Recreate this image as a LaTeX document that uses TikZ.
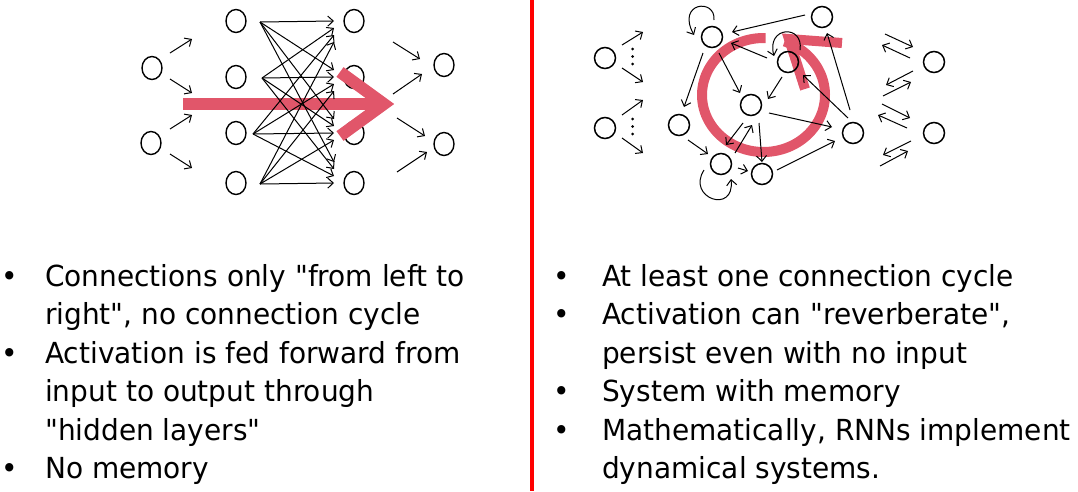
\documentclass[tikz,border=0pt]{standalone}
\usepackage{fontspec}
\setmainfont{DejaVu Sans}[Ligatures=TeXOff, FakeStretch=0.965]
\usetikzlibrary{arrows.meta,calc,shapes.geometric}
\definecolor{flow}{RGB}{225,86,106}
\definecolor{divider}{RGB}{255,0,0}
\begin{document}
\begin{tikzpicture}[x=1pt,y=-1pt,
  ffunit/.style={draw=black, line width=1.4pt, ellipse, minimum width=20pt, minimum height=23pt, inner sep=0pt},
  rnunit/.style={draw=black, line width=1.5pt, circle, minimum size=21pt, inner sep=0pt},
  arr/.style={line width=1pt, -{Straight Barb[length=5.5pt,width=10pt]}},
  flowline/.style={draw=flow, line width=12pt},
  flowring/.style={draw=flow, line width=10pt},
  txt/.style={anchor=base west, inner sep=0pt, font=\fontsize{29}{35}\selectfont},
]
\useasboundingbox (0,0) rectangle (1078,491);

% ---------- feed-forward network ----------
\node[ffunit] (in1) at (152,68) {};
\node[ffunit] (in2) at (151,143) {};
\foreach \i/\y in {1/21,2/77,3/133,4/183}{
  \node[ffunit] (ha\i) at (236,\y) {};
  \node[ffunit] (hb\i) at (354,\y) {};
}
\node[ffunit] (o1) at (444,65) {};
\node[ffunit] (o2) at (444,144) {};

% red flow arrow
\draw[flowline] (183,104) -- (384,104);
\draw[flowline, line join=miter] (340,72) -- (384,104) -- (340,136);

% input arrows
\draw[arr] ($(in1)+(18,-15)$) -- ++(22,-14);
\draw[arr] ($(in1)+(18,11)$) -- ++(22,14);
\draw[arr] ($(in2)+(19,-14)$) -- ++(22,-14);
\draw[arr] ($(in2)+(19,11)$) -- ++(22,14);

% full connections between hidden layers
\foreach \s/\dx in {1/24,2/26,3/17,4/24}{
  \foreach \t in {1,...,4}{
    \draw[arr] ($(ha\s)+(\dx,1)$) -- ($(hb\t)+(-20,{7*(\s-\t)})$);
  }
}

% output arrows
\draw[arr] ($(hb1)+(39,21)$) -- ($(o1)+(-24,-6)$);
\draw[arr] ($(hb2)+(39,17)$) -- ($(o1)+(-22,9)$);
\draw[arr] ($(hb3)+(43,-15)$) -- ($(o2)+(-19,-8)$);
\draw[arr] ($(hb4)+(43,-11)$) -- ($(o2)+(-17,8)$);

% ---------- divider ----------
\draw[divider, line width=4pt] (532,0) -- (532,491);

% ---------- recurrent network ----------
% red circulation arrow
\draw[flowring] plot[domain=88:430, samples=120, smooth] ({763.5+61.5*cos(\x)}, {95-57*sin(\x)});
\draw[flowring, line join=miter] (842,43) -- (789,39) -- (805,89);

\node[rnunit] (I1) at (605,58) {};
\node[rnunit] (I2) at (605,128) {};
\node[rnunit] (A) at (712,37) {};
\node[rnunit] (B) at (822,17) {};
\node[rnunit] (C) at (788,62) {};
\node[rnunit] (D) at (751,105) {};
\node[rnunit] (E) at (679,125) {};
\node[rnunit] (F) at (853,133) {};
\node[rnunit] (G) at (721,164) {};
\node[rnunit] (H) at (762,174) {};
\node[rnunit] (O1) at (934,62) {};
\node[rnunit] (O2) at (934,133) {};

% input fan-out with dots
\draw[arr] ($(I1)+(17,-13)$) -- ++(21,-13);
\draw[arr] ($(I1)+(17,10)$) -- ++(21,14);
\draw[arr] ($(I2)+(17,-13)$) -- ++(21,-15);
\draw[arr] ($(I2)+(17,10)$) -- ++(21,15);
\foreach \y in {-9,-1.5,6}{
  \fill ($(I1)+(27.5,\y)$) circle (1.5pt);
  \fill ($(I2)+(27.5,\y)$) circle (1.5pt);
}

% recurrent connections
\draw[arr] ($(B)+(-17,-2)$) -- ($(A)+(20,-5)$);
\draw[arr] ($(C)+(-21,-4)$) -- ($(A)+(19,6)$);
\draw[arr] ($(A)+(7,16)$) -- ($(D)+(-11,-12)$);
\draw[arr] ($(A)+(-9,16)$) -- ($(E)+(5,-18)$);
\draw[arr] ($(C)+(-6,15)$) -- ($(D)+(17,-6)$);
\draw[arr] ($(F)+(-5,-15)$) -- ($(C)+(15,13)$);
\draw[arr] ($(F)+(-3,-23)$) -- ($(B)+(5,16)$);
\draw[arr] ($(D)+(18,8)$) -- ($(F)+(-21,-6)$);
\draw[arr] ($(E)+(9,15)$) -- ($(G)+(-13,-10)$);
\draw[arr] ($(D)+(-8,18)$) -- ($(G)+(5,-19)$);
\draw[arr] ($(G)+(14,-11)$) -- ($(D)+(1,20)$);
\draw[arr] ($(D)+(8,18)$) -- ($(H)+(0,-12)$);
\draw[arr] ($(G)+(17,4)$) -- ($(H)+(-14,-3)$);
\draw[arr] ($(H)+(15,-4)$) -- ($(F)+(-18,8)$);

% self loops
\draw[arr] ($(A)+(2,-17)$) .. controls ($(A)+(4,-39)$) and ($(A)+(-36,-35)$) .. ($(A)+(-18,-2)$);
\draw[arr] ($(C)+(12,-12)$) .. controls ($(C)+(16,-38)$) and ($(C)+(-22,-36)$) .. ($(C)+(-14,-6)$);
\draw[arr] ($(G)+(-17,6)$) .. controls ($(G)+(-35,34)$) and ($(G)+(14,51)$) .. ($(G)+(10,15)$);

% two-way links to the outputs
\draw[arr] ($(O1)+(-49,-28)$) -- ($(O1)+(-21,-15)$);
\draw[arr] ($(O1)+(-24,-4)$) -- ($(O1)+(-52,-17)$);
\draw[arr] ($(O1)+(-21,9)$) -- ($(O1)+(-48,23)$);
\draw[arr] ($(O1)+(-51,34)$) -- ($(O1)+(-23,20)$);
\draw[arr] ($(O2)+(-52,-29)$) -- ($(O2)+(-24,-15)$);
\draw[arr] ($(O2)+(-27,-5)$) -- ($(O2)+(-56,-18)$);
\draw[arr] ($(O2)+(-23,8)$) -- ($(O2)+(-51,22)$);
\draw[arr] ($(O2)+(-54,33)$) -- ($(O2)+(-26,18)$);

% ---------- bullet text ----------
\foreach \y in {286,363,478.5}{ \node[txt] at (1,\y) {•}; }
\node[txt] (l1) at (45,286) {Connections only "from left to};
\node[txt] (l2) at (45,324.5) {right", no connection cycle};
\node[txt] (l3) at (45,363) {Activation is fed forward from};
\node[txt] (l4) at (45,401.5) {input to output through};
\node[txt] (l5) at (45,440) {"hidden layers"};
\node[txt] (l6) at (45,478.5) {No memory};

\foreach \y in {286,324.5,401.5,440}{ \node[txt] at (553,\y) {•}; }
\node[txt] (r1) at (602,286) {At least one connection cycle};
\node[txt] (r2) at (602,324.5) {Activation can "reverberate",};
\node[txt] (r3) at (602,363) {persist even with no input};
\node[txt] (r4) at (602,401.5) {System with memory};
\node[txt] (r5) at (602,440) {Mathematically, RNNs implement};
\node[txt] (r6) at (602,478.5) {dynamical systems.};
\end{tikzpicture}
\end{document}
